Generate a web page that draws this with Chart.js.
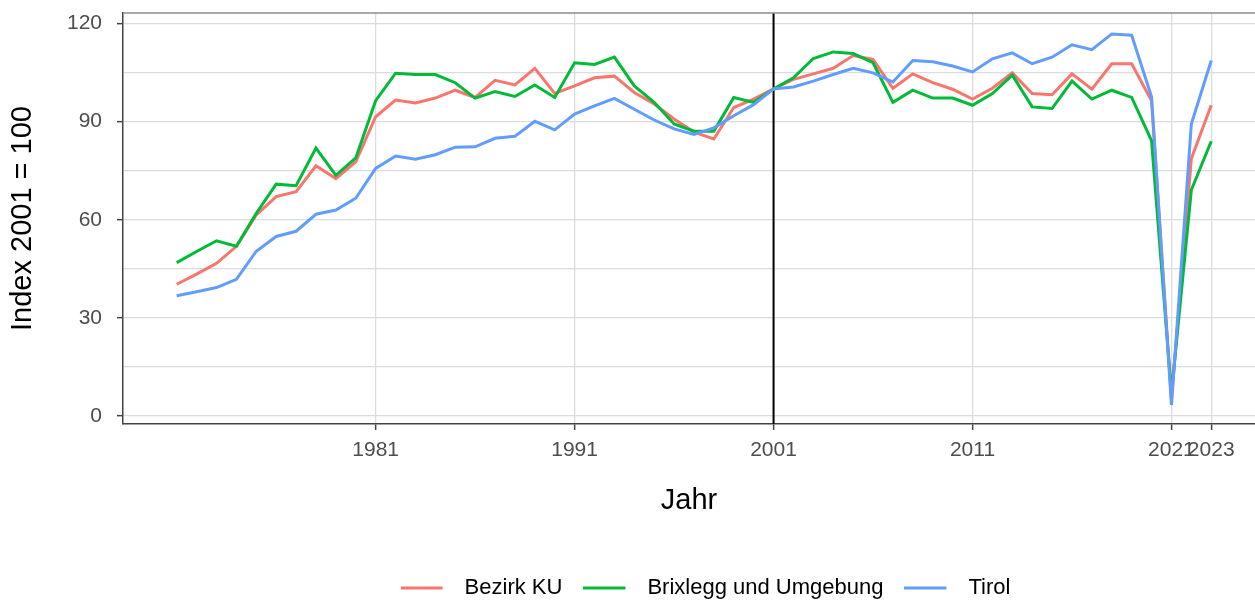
<!DOCTYPE html>
<html>
<head>
<meta charset="utf-8">
<script src="https://cdn.jsdelivr.net/npm/chart.js@4.4.1/dist/chart.umd.min.js"></script>
<style>
  html, body { margin: 0; padding: 0; background: #fff; }
</style>
</head>
<body>
<canvas id="chart" width="1255" height="600"></canvas>
<script>
// values (index, 2001 = 100)
var years = [1971, 1972, 1973, 1974, 1975, 1976, 1977, 1978, 1979, 1980,
             1981, 1982, 1983, 1984, 1985, 1986, 1987, 1988, 1989, 1990,
             1991, 1992, 1993, 1994, 1995, 1996, 1997, 1998, 1999, 2000,
             2001, 2002, 2003, 2004, 2005, 2006, 2007, 2008, 2009, 2010,
             2011, 2012, 2013, 2014, 2015, 2016, 2017, 2018, 2019, 2020,
             2021, 2022, 2023];
var bezirkKU = [40.3, 43.4, 46.7, 51.9, 61.5, 67.1, 68.6, 76.5, 72.6, 77.7,
                91.5, 96.6, 95.7, 97.2, 99.6, 97.4, 102.6, 101.2, 106.3, 98.6,
                100.9, 103.4, 103.9, 98.9, 95.4, 90.8, 86.8, 84.7, 94.3, 96.9,
                100, 102.9, 104.6, 106.3, 110.2, 109.0, 100.2, 104.6, 101.9, 99.9,
                96.9, 100.2, 104.9, 98.6, 98.2, 104.6, 99.9, 107.7, 107.7, 96.4,
                5, 78.7, 95.0];
var brixlegg = [46.9, 50.3, 53.6, 51.9, 62.0, 70.9, 70.4, 81.9, 73.6, 78.9,
                96.4, 104.8, 104.4, 104.4, 101.9, 97.2, 99.2, 97.7, 101.2, 97.4,
                108.0, 107.5, 109.7, 100.9, 95.9, 89.3, 87.1, 87.1, 97.4, 95.9,
                100, 103.4, 109.3, 111.3, 110.8, 108.0, 95.9, 99.6, 97.2, 97.2,
                95.0, 98.6, 104.2, 94.5, 94.0, 102.4, 96.9, 99.6, 97.4, 84.2,
                7, 69.1, 84.0];
var tirol = [36.8, 38.0, 39.3, 41.8, 50.4, 54.9, 56.5, 61.7, 63.0, 66.6,
             75.7, 79.5, 78.5, 79.9, 82.2, 82.3, 84.9, 85.5, 90.1, 87.5,
             92.3, 94.8, 97.1, 93.8, 90.5, 87.8, 86.1, 88.1, 91.8, 95.2,
             100, 100.6, 102.4, 104.4, 106.3, 104.9, 102.1, 108.7, 108.3, 107.0,
             105.2, 109.2, 111.0, 107.7, 109.7, 113.5, 112.0, 116.8, 116.4, 97.6,
             3.4, 89.3, 108.7];

var seriesNames = ['Bezirk KU', 'Brixlegg und Umgebung', 'Tirol'];
var seriesColors = ['#F8766D', '#00BA38', '#619CFF'];
var xTicks = [1981, 1991, 2001, 2011, 2021, 2023];
var yTicks = [0, 15, 30, 45, 60, 75, 90, 105, 120];
var refYear = 2001;

function toPoints(values) {
  return years.map(function(y, i) { return {x: y, y: values[i]}; });
}

// legend key: short line with empty space after it, so the text sits further away
function legendKey(color) {
  var c = document.createElement('canvas');
  c.width = 53;
  c.height = 4;
  var k = c.getContext('2d');
  k.fillStyle = color;
  k.fillRect(0, 0.5, 42, 3);
  return c;
}

var seriesValues = [bezirkKU, brixlegg, tirol];
var datasets = seriesValues.map(function(vals, i) {
  return {
    label: seriesNames[i],
    data: toPoints(vals),
    borderColor: seriesColors[i],
    backgroundColor: seriesColors[i],
    borderWidth: 3,
    pointRadius: 0,
    pointStyle: legendKey(seriesColors[i]),
    tension: 0,
    order: 2 - i
  };
});

var frame = {
  id: 'frame',
  afterLayout: function(chart) {
    var lg = chart.legend;
    lg.left += 78; lg.right += 78;
    lg.top += 9; lg.bottom += 9;
  },
  beforeDatasetsDraw: function(chart) {
    var ctx = chart.ctx, a = chart.chartArea;
    var x = chart.scales.x.getPixelForValue(refYear);
    ctx.save();
    ctx.strokeStyle = '#000';
    ctx.lineWidth = 2;
    ctx.beginPath(); ctx.moveTo(x, a.top); ctx.lineTo(x, a.bottom); ctx.stroke();
    ctx.strokeStyle = '#8c8c8c';
    ctx.lineWidth = 1.5;
    ctx.beginPath(); ctx.moveTo(a.left, a.top); ctx.lineTo(a.right, a.top); ctx.stroke();
    ctx.restore();
  }
};

var ctx = document.getElementById('chart').getContext('2d');
var myChart = new Chart(ctx, {
  type: 'line',
  data: { datasets: datasets },
  plugins: [frame],
  options: {
    responsive: false,
    animation: false,
    layout: { padding: { top: 13, left: 0, right: 0, bottom: 0 } },
    plugins: {
      tooltip: { enabled: false },
      legend: {
        position: 'bottom',
        labels: {
          usePointStyle: true,
          pointStyleWidth: 53,
          padding: 21,
          color: '#000',
          font: { family: 'Liberation Sans', size: 22 },
          sort: function(a, b) { return a.datasetIndex - b.datasetIndex; }
        }
      }
    },
    scales: {
      x: {
        type: 'linear',
        min: 1968.3,
        max: 2025.2,
        afterBuildTicks: function(scale) {
          scale.ticks = xTicks.map(function(v) { return {value: v}; });
        },
        afterFit: function(scale) {
          scale.height = 123;
          scale.paddingLeft = 0;
          scale.paddingRight = 0;
        },
        ticks: {
          autoSkip: false,
          maxRotation: 0,
          padding: 8,
          color: '#4d4d4d',
          font: { family: 'Liberation Sans', size: 21 },
          callback: function(v) { return String(v); }
        },
        grid: {
          color: '#dcdcdc',
          lineWidth: 1.3,
          tickLength: 6,
          tickColor: '#444',
          tickWidth: 1.5
        },
        border: { display: true, color: '#444', width: 1.5 },
        title: {
          display: true,
          text: 'Jahr',
          color: '#000',
          font: { family: 'Liberation Sans', size: 29 },
          padding: { top: 0, bottom: 29 }
        }
      },
      y: {
        min: -2.4,
        max: 123.2,
        afterBuildTicks: function(scale) {
          scale.ticks = yTicks.map(function(v) { return {value: v}; });
        },
        afterFit: function(scale) {
          scale.width = 123;
          scale.paddingTop = 0;
          scale.paddingBottom = 0;
        },
        ticks: {
          padding: 15,
          color: '#4d4d4d',
          font: { family: 'Liberation Sans', size: 21 },
          callback: function(v) { return v % 30 === 0 ? String(v) : ''; }
        },
        grid: {
          color: '#dcdcdc',
          lineWidth: 1.3,
          tickLength: 6,
          tickWidth: 1.5,
          tickColor: function(c) {
            return c.tick && c.tick.value % 30 === 0 ? '#444' : 'rgba(0,0,0,0)';
          }
        },
        border: { display: true, color: '#444', width: 1.5 },
        title: {
          display: true,
          text: 'Index 2001 = 100',
          color: '#000',
          font: { family: 'Liberation Sans', size: 29 },
          padding: { top: 6, bottom: 0 }
        }
      }
    }
  }
});
</script>
</body>
</html>
